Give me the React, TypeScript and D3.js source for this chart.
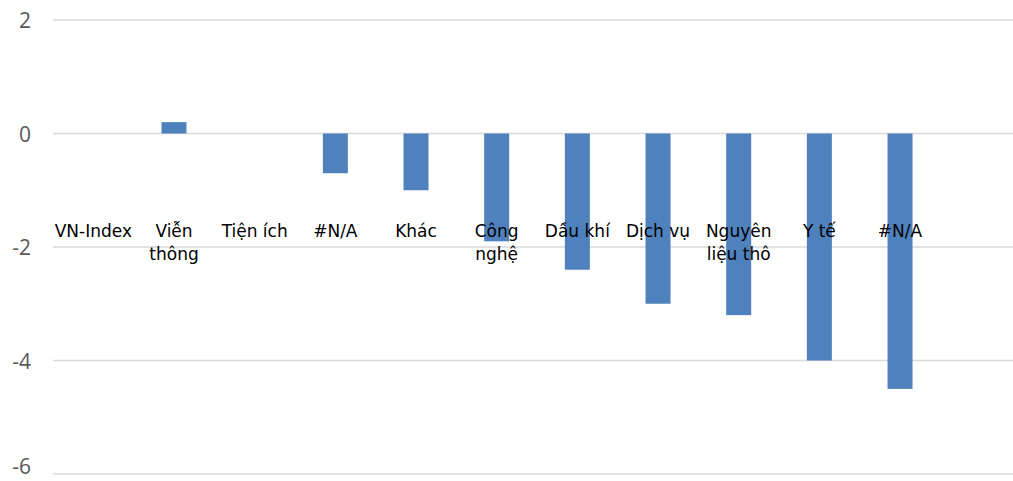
import { useEffect, useRef } from "react"
import * as d3 from "d3"

const categories = [
  "VN-Index",
  "Viễn thông",
  "Tiện ích",
  "#N/A",
  "Khác",
  "Công nghệ",
  "Dầu khí",
  "Dịch vụ",
  "Nguyên liệu thô",
  "Y tế",
  "#N/A ",
]
const values = [0, 0.2, 0, -0.7, -1.0, -1.9, -2.4, -3.0, -3.2, -4.0, -4.5]
// wrapped label lines as shown on the chart
const labelLines = [
  ["VN-Index"],
  ["Viễn", "thông"],
  ["Tiện ích"],
  ["#N/A"],
  ["Khác"],
  ["Công", "nghệ"],
  ["Dầu khí"],
  ["Dịch vụ"],
  ["Nguyên", "liệu thô"],
  ["Y tế"],
  ["#N/A"],
]
const yTicks = [2, 0, -2, -4, -6]

export default function App() {
  const svgRef = useRef<SVGSVGElement>(null)

  useEffect(() => {
    if (!svgRef.current) return
    const svg = d3.select(svgRef.current)
    svg.selectAll("*").remove()

    const width = 1013
    const height = 481
    const left = 53
    const step = 80.67

    const x = d3
      .scaleBand<string>()
      .domain(categories)
      .range([left, left + step * categories.length])
      .padding(0)

    const y = d3.scaleLinear().domain([-6, 2]).range([474, 20])

    const g = svg.attr("width", width).attr("height", height)

    g.selectAll(".grid-line")
      .data(yTicks)
      .enter()
      .append("line")
      .attr("x1", left)
      .attr("x2", width)
      .attr("y1", (d) => y(d))
      .attr("y2", (d) => y(d))
      .attr("stroke", "#d9d9d9")
      .attr("stroke-width", 1.5)

    g.selectAll(".tick-label")
      .data(yTicks)
      .enter()
      .append("text")
      .attr("x", 31)
      .attr("y", (d) => Math.min(y(d) + 8, 474))
      .attr("text-anchor", "end")
      .style("font-family", "'Open Sans', 'Noto Sans', sans-serif")
      .style("font-size", "21px")
      .style("fill", "#595959")
      .text((d) => String(d))

    const barW = 25
    g.selectAll(".bar")
      .data(values)
      .enter()
      .append("rect")
      .attr("x", (_, i) => x(categories[i])! + x.bandwidth() / 2 - barW / 2)
      .attr("y", (d) => y(Math.max(0, d)))
      .attr("width", barW)
      .attr("height", (d) => Math.abs(y(d) - y(0)))
      .attr("fill", "#4f81bd")

    const labels = g
      .selectAll(".cat-label")
      .data(labelLines)
      .enter()
      .append("text")
      .attr("text-anchor", "middle")
      .style("font-family", "'DejaVu Sans', Verdana, sans-serif")
      .style("font-size", "17px")
      .style("fill", "#000")

    labels.each(function (lines, i) {
      const cx = x(categories[i])! + x.bandwidth() / 2
      d3.select(this)
        .selectAll("tspan")
        .data(lines)
        .enter()
        .append("tspan")
        .attr("x", cx)
        .attr("y", (_, j) => 237 + j * 23)
        .text((d) => d)
    })
  }, [])

  return (
    <div style={{ position: "absolute", left: 0, top: 0 }}>
      <svg ref={svgRef} style={{ display: "block" }}></svg>
    </div>
  )
}
